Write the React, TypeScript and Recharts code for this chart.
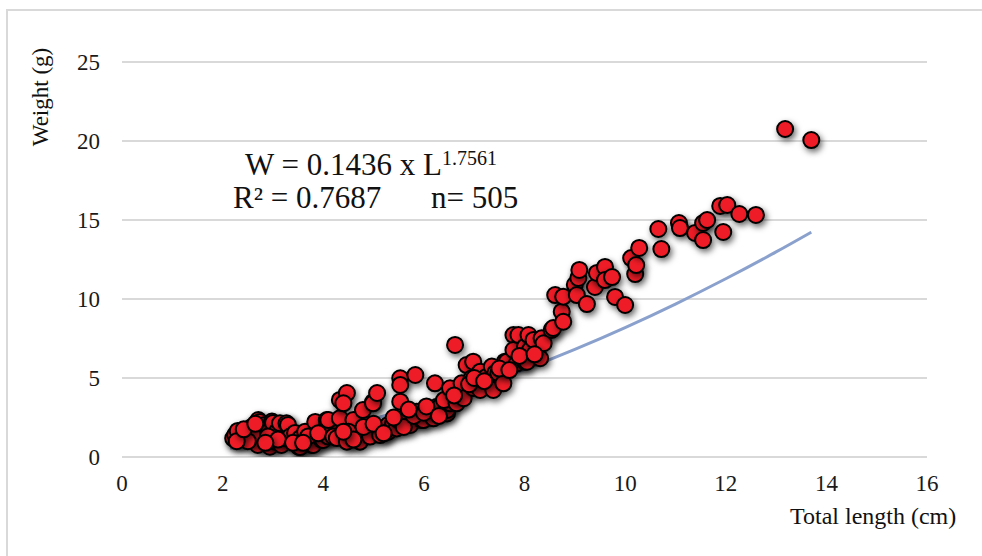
import { ComposedChart, Scatter, Line, XAxis, YAxis, CartesianGrid } from "recharts";

const serif = '"Liberation Serif", "Times New Roman", serif';

// fish total length (cm) / weight (g)
const lengthCm = [
  2.21, 2.25, 2.35, 2.3, 2.45, 2.4, 2.51, 2.58, 2.58, 2.71, 2.74, 2.84, 2.78, 2.71, 2.7,
  2.94, 2.98, 3.0, 3.08, 3.04, 3.14, 3.17, 3.24, 3.27, 3.3, 3.34, 3.44, 3.51, 3.54, 3.54,
  3.64, 3.77, 3.8, 3.84, 3.97, 4.0, 4.07, 4.07, 4.1, 4.14, 4.1, 2.6, 2.9, 3.1, 3.4,
  3.7, 2.5, 2.85, 3.6, 3.9, 2.28, 2.42, 2.65,
  4.2, 4.27, 4.33, 4.33, 4.47, 4.4, 4.47, 4.47, 4.6, 4.67, 4.73, 4.79, 4.86, 4.93, 4.99,
  4.99, 5.07, 5.1, 5.13, 5.27, 5.29, 5.29, 5.39, 5.46, 5.49, 5.53, 5.53, 5.53, 5.59, 5.66,
  5.73, 5.83, 5.86, 5.96, 5.99, 6.12, 6.19, 6.22, 6.18, 6.26, 6.32, 6.46, 6.46, 6.52,
  4.5, 4.8, 5.0, 5.2, 5.6, 5.8, 6.0, 6.05, 4.6, 4.4, 5.4, 5.7, 6.3, 6.4,
  6.52, 6.62, 6.65, 6.72, 6.75, 6.79, 6.85, 6.95, 6.98, 6.98, 7.12, 7.12, 7.25, 7.35,
  7.38, 7.42, 7.48, 7.58, 7.61, 7.65, 7.78, 7.78, 7.85, 7.88, 8.01, 8.01, 8.05, 8.08,
  8.11, 8.18, 8.31, 8.34, 8.38, 8.54, 8.57, 6.6, 6.9, 7.0, 7.2, 7.5, 7.7, 7.9, 8.2,
  8.61, 8.74, 8.77, 8.77, 9.0, 9.04, 9.07, 9.09, 9.24, 9.4, 9.44, 9.6, 9.6, 9.74, 9.8, 10.0,
  10.12, 10.2, 10.22, 10.28, 10.66, 10.72, 11.07, 11.09, 11.39, 11.55, 11.55, 11.63,
  11.89, 11.95, 12.03, 12.27, 12.6,
  13.18, 13.7,
];

const weightG = [
  1.18, 1.4, 1.29, 1.65, 1.6, 1.2, 1.52, 1.81, 1.9, 2.34, 2.22, 2.03, 1.6, 1.18, 0.76,
  0.65, 2.24, 2.15, 1.6, 0.97, 2.13, 0.76, 1.18, 2.13, 2.03, 1.29, 1.52, 0.65, 0.63, 1.18,
  1.6, 0.76, 0.76, 2.22, 1.08, 1.08, 1.92, 2.34, 1.29, 1.9, 2.34, 1.4, 1.3, 1.1, 0.9,
  1.3, 1.0, 0.9, 0.9, 1.5, 1.0, 1.75, 2.1,
  1.29, 1.2, 2.45, 3.61, 4.05, 3.4, 1.2, 0.97, 2.34, 1.39, 0.97, 2.97, 1.6, 1.29, 3.48,
  3.4, 4.05, 1.81, 1.39, 1.9, 2.03, 1.6, 2.15, 1.81, 2.34, 4.98, 4.56, 3.5, 2.34, 2.45,
  2.03, 5.19, 2.87, 2.34, 2.34, 2.97, 2.45, 4.66, 2.97, 3.18, 3.18, 2.76, 2.97, 3.4,
  1.6, 1.9, 2.1, 1.5, 1.9, 2.6, 2.8, 3.2, 1.1, 1.6, 2.5, 3.0, 2.6, 3.6,
  4.35, 7.09, 3.4, 4.11, 4.66, 3.72, 5.82, 4.98, 6.03, 4.37, 5.4, 4.24, 5.08, 5.72,
  4.24, 5.32, 5.3, 4.66, 6.03, 6.03, 7.72, 6.77, 5.93, 7.72, 6.98, 6.03, 6.03, 7.72,
  6.77, 7.41, 6.25, 7.51, 7.2, 8.04, 8.16, 3.9, 4.6, 5.0, 4.8, 5.6, 5.5, 6.4, 6.5,
  10.25, 9.2, 10.15, 8.56, 10.9, 10.25, 11.33, 11.84, 9.68, 10.76, 11.65, 12.03, 11.2, 11.39, 10.13, 9.62,
  12.59, 11.58, 12.15, 13.23, 14.43, 13.16, 14.81, 14.49, 14.18, 14.81, 13.73, 15.0,
  15.89, 14.24, 15.95, 15.38, 15.32,
  20.76, 20.06,
];

// power trendline as drawn
const trendLength = [2.15, 3, 4, 5, 6, 7, 8, 9, 10, 11, 12, 13, 13.7];
const trendWeight = [0.56, 0.99, 1.64, 2.42, 3.34, 4.38, 5.54, 6.81, 8.19, 9.68, 11.28, 12.98, 14.23];

const xTicks = [0, 2, 4, 6, 8, 10, 12, 14, 16];
const yTicks = [0, 5, 10, 15, 20, 25];

const points = lengthCm.map((x, i) => ({ x, y: weightG[i] }));
const trend = trendLength.map((x, i) => ({ x, y: trendWeight[i] }));

const Dot = (props: any) => {
  const { cx, cy } = props;
  if (cx == null || cy == null) return null;
  return (
    <circle
      cx={cx}
      cy={cy}
      r={8}
      fill="#ee1c25"
      stroke="#000"
      strokeWidth={2}
      filter="url(#dotShadow)"
    />
  );
};

const XTick = (props: any) => {
  const { x, y, payload } = props;
  return (
    <text x={x} y={y + 16} textAnchor="middle" fontSize={23} fontFamily={serif} fill="#1a1a1a">
      {payload.value}
    </text>
  );
};

const YTick = (props: any) => {
  const { x, y, payload } = props;
  return (
    <text x={x} y={y + 8} textAnchor="end" fontSize={23} fontFamily={serif} fill="#1a1a1a">
      {payload.value}
    </text>
  );
};

export default function App() {
  return (
    <div style={{ position: "absolute", left: 0, top: 0, width: 982, height: 556, background: "#fff" }}>
      <svg width={0} height={0} style={{ position: "absolute" }}>
        <defs>
          <filter id="dotShadow" x="-60%" y="-60%" width="240%" height="240%">
            <feDropShadow dx={2} dy={3} stdDeviation={3} floodColor="#000" floodOpacity={0.6} />
          </filter>
        </defs>
      </svg>
      <ComposedChart width={982} height={556} margin={{ top: 62, right: 55, bottom: 59, left: 22 }}>
        <CartesianGrid vertical={false} stroke="#d9d9d9" strokeWidth={2} />
        <XAxis
          type="number"
          dataKey="x"
          domain={[0, 16]}
          ticks={xTicks}
          allowDataOverflow
          axisLine={false}
          tickLine={false}
          tickSize={0}
          tickMargin={18}
          height={40}
          tick={<XTick />}
        />
        <YAxis
          type="number"
          dataKey="y"
          domain={[0, 25]}
          ticks={yTicks}
          allowDataOverflow
          axisLine={false}
          tickLine={false}
          tickSize={0}
          tickMargin={22}
          width={100}
          tick={<YTick />}
        />
        <Scatter data={points} dataKey="y" shape={Dot} isAnimationActive={false} />
        <Line
          data={trend}
          dataKey="y"
          type="monotone"
          stroke="#8ba1cd"
          strokeWidth={3}
          dot={false}
          activeDot={false}
          isAnimationActive={false}
        />
      </ComposedChart>
      <svg
        width={982}
        height={556}
        style={{ position: "absolute", left: 0, top: 0, pointerEvents: "none" }}
        fontFamily={serif}
        fill="#111"
      >
        <path d="M7 556 V10 H982" stroke="#d9d9d9" strokeWidth={2} fill="none" />
        <text x={48} y={97} fontSize={23} textAnchor="middle" transform="rotate(-90 48 97)">
          Weight (g)
        </text>
        <text x={790} y={524} fontSize={24}>
          Total length (cm)
        </text>
        <text x={245} y={175} fontSize={31}>
          W = 0.1436 x L
          <tspan fontSize={20} dy={-10}>
            1.7561
          </tspan>
        </text>
        <text x={233} y={208} fontSize={31}>
          R² = 0.7687
        </text>
        <text x={431} y={208} fontSize={31}>
          n= 505
        </text>
      </svg>
    </div>
  );
}
